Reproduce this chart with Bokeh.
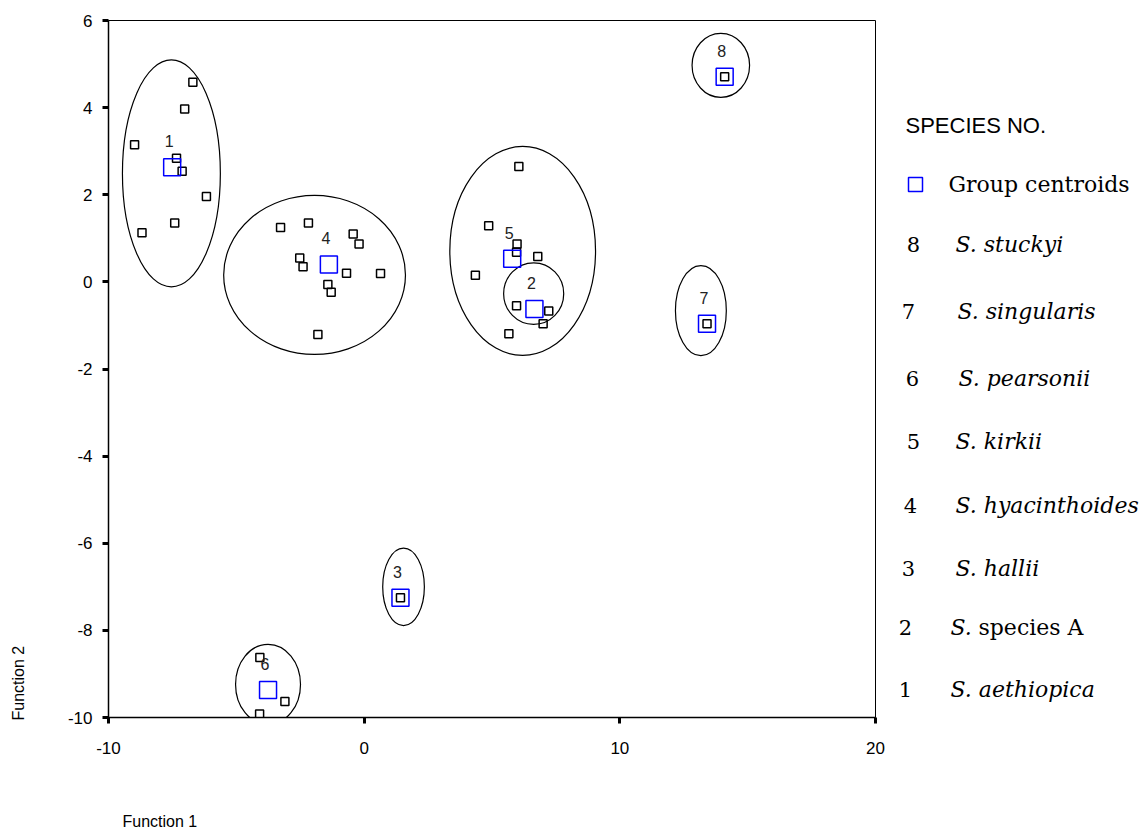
from bokeh.plotting import figure
from bokeh.models import Range1d, FixedTicker, Title
from bokeh.layouts import row
from bokeh.core.properties import value
from bokeh.embed import file_html
from bokeh.resources import INLINE

# ---- data ----
g1_x = [-6.70, -7.02, -8.98, -7.34, -7.12, -6.17, -7.41, -8.69]
g1_y = [4.58, 3.97, 3.15, 2.84, 2.54, 1.96, 1.35, 1.13]
g2_x = [5.96, 7.22, 7.00]
g2_y = [-0.55, -0.67, -0.96]
g3_x = [1.42]
g3_y = [-7.25]
g4_x = [-3.27, -2.18, -0.43, -0.20, -2.52, -2.39, -0.69, 0.64, -1.42, -1.29, -1.81]
g4_y = [1.25, 1.35, 1.10, 0.87, 0.55, 0.35, 0.20, 0.19, -0.06, -0.24, -1.21]
g5_x = [6.05, 4.87, 5.98, 5.96, 6.79, 4.35, 5.66]
g5_y = [2.65, 1.29, 0.87, 0.68, 0.58, 0.15, -1.19]
g6_x = [-4.08, -3.10, -4.09]
g6_y = [-8.62, -9.63, -9.92]
g7_x = [13.41]
g7_y = [-0.96]
g8_x = [14.10]
g8_y = [4.71]

group_labels = ["1", "2", "3", "4", "5", "6", "7", "8"]
centroid_x = [-7.51, 6.66, 1.42, -1.38, 5.79, -3.76, 13.41, 14.10]
centroid_y = [2.63, -0.62, -7.25, 0.40, 0.53, -9.37, -0.96, 4.71]

ellipse_x = [-7.54, 6.63, 1.54, -1.94, 6.20, -3.76, 13.17, 13.95]
ellipse_y = [2.49, -0.27, -7.00, 0.16, 0.71, -9.24, -0.66, 4.97]
ellipse_w = [3.83, 2.35, 1.63, 7.11, 5.70, 2.54, 1.99, 2.25]
ellipse_h = [5.21, 1.41, 1.78, 3.65, 4.80, 1.84, 2.07, 1.47]

x_ticks = [-10, 0, 10, 20]
y_ticks = [-10, -8, -6, -4, -2, 0, 2, 4, 6]

legend_title = "SPECIES NO."
centroid_label = "Group centroids"
legend_numbers = ["8", "7", "6", "5", "4", "3", "2", "1"]
legend_names = ["S. stuckyi", "S. singularis", "S. pearsonii", "S. kirkii",
                "S. hyacinthoides", "S. hallii", "S.", "S. aethiopica"]
legend_extra = "species A"

# ---- main figure ----
MAIN_W, H = 898, 837
p = figure(width=MAIN_W, height=H, x_range=Range1d(-10, 20), y_range=Range1d(-10, 6),
           output_backend="svg", toolbar_location=None,
           min_border_left=108, min_border_right=23, min_border_top=20, min_border_bottom=120)
p.grid.visible = False
p.outline_line_color = "black"
p.outline_line_width = 1
p.background_fill_color = "white"
p.border_fill_color = "white"

for ax, ticks in ((p.xaxis, x_ticks), (p.yaxis, y_ticks)):
    ax.ticker = FixedTicker(ticks=ticks)
    ax.major_label_overrides = {t: str(t) for t in ticks}
    ax.axis_line_color = "black"
    ax.axis_line_width = 1.5
    ax.major_tick_in = 0
    ax.major_tick_out = 6
    ax.major_tick_line_width = 3
    ax.minor_tick_line_color = None
    ax.major_label_text_font = "Liberation Sans"
    ax.major_label_text_font_size = "17px"
    ax.major_label_text_color = "black"
    ax.axis_label = " "                       # blank spacer between ticks and title
    ax.axis_label_text_font_size = "13px"
p.xaxis.major_label_standoff = 18
p.yaxis.major_label_standoff = 10
p.xaxis.axis_label_standoff = 36
p.yaxis.axis_label_standoff = 20

p.add_layout(Title(text="Function 1", align="left", offset=14, standoff=0,
                   text_font="Liberation Sans", text_font_size="16px",
                   text_font_style="normal", text_color="black"), "below")
p.add_layout(Title(text="Function 2", align="left", offset=-3, standoff=0,
                   text_font="Liberation Sans", text_font_size="16px",
                   text_font_style="normal", text_color="black"), "left")

p.ellipse(x=ellipse_x, y=ellipse_y, width=ellipse_w, height=ellipse_h,
          fill_color=None, line_color="black", line_width=1.2)

all_x = g1_x + g2_x + g3_x + g4_x + g5_x + g6_x + g7_x + g8_x
all_y = g1_y + g2_y + g3_y + g4_y + g5_y + g6_y + g7_y + g8_y
p.scatter(all_x, all_y, marker="square", size=8, fill_color=None,
          line_color="black", line_width=1.5)

p.scatter(centroid_x, centroid_y, marker="square", size=17, fill_color=None,
          line_color="#0000ff", line_width=1.5)

p.text(centroid_x, centroid_y, text=group_labels, x_offset=-3, y_offset=-26,
       text_align="center", text_baseline="middle",
       text_font=value("Liberation Sans"), text_font_size="16px", text_color="#222222")

# ---- legend panel (pixel-like coordinates, same vertical borders as main) ----
LW = 1146 - MAIN_W
lg = figure(width=LW, height=H, x_range=Range1d(0, LW), y_range=Range1d(0, 697),
            output_backend="svg", toolbar_location=None,
            min_border_left=0, min_border_right=0, min_border_top=20, min_border_bottom=120)
lg.axis.visible = False
lg.grid.visible = False
lg.outline_line_color = None
lg.background_fill_color = "white"
lg.border_fill_color = "white"

serif = value("DejaVu Serif")
lg.text([7], [592], text=[legend_title], text_baseline="middle",
        text_font=value("Liberation Sans"), text_font_size="22px", text_color="black")
lg.scatter([17], [533], marker="square", size=14, fill_color=None,
           line_color="#0000ff", line_width=1.5)
lg.text([50], [533], text=[centroid_label], text_baseline="middle",
        text_font=serif, text_font_size="22px", text_color="black")

row_y = [473, 406, 339, 276, 212, 149, 90, 28]
num_x = [15, 10, 14, 15, 12, 10, 7, 7]
name_x = [57, 59, 60, 57, 57, 57, 52, 52]
lg.text(num_x, row_y, text=legend_numbers, text_baseline="middle", text_align="center",
        text_font=serif, text_font_size="21px", text_color="black")
lg.text(name_x, row_y, text=legend_names, text_baseline="middle",
        text_font=serif, text_font_size="22px", text_font_style="italic", text_color="black")
lg.text([80], [row_y[6]], text=[legend_extra], text_baseline="middle",
        text_font=serif, text_font_size="22px", text_color="black")

layout = row(p, lg, spacing=0)
open("out.html", "w").write(file_html(layout, INLINE))
